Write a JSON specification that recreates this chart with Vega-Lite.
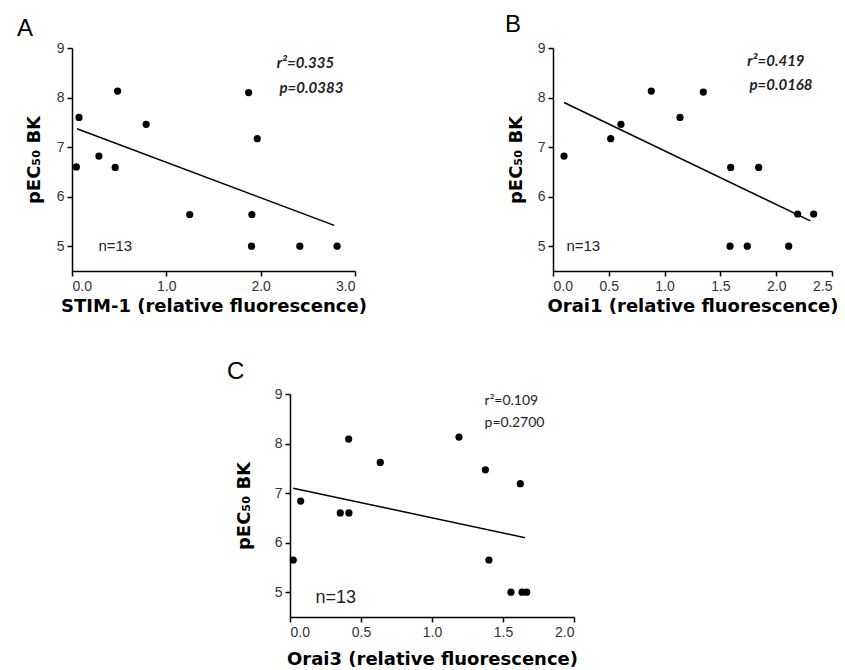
{
  "$schema": "https://vega.github.io/schema/vega-lite/v6.json",
  "padding": {"left": 17, "top": 13, "right": 5, "bottom": 5},
  "background": "white",
  "datasets": {
    "ptsA": [{"x":0.046,"y":6.6},{"x":0.074,"y":7.6},{"x":0.483,"y":8.13},{"x":0.285,"y":6.82},{"x":0.458,"y":6.59},{"x":0.786,"y":7.46},{"x":1.248,"y":5.64},{"x":1.872,"y":8.1},{"x":1.963,"y":7.17},{"x":1.907,"y":5.64},{"x":1.903,"y":5.0},{"x":2.415,"y":5.0},{"x":2.81,"y":5.0}],
    "lineA": [{"x":0.053,"y":7.37},{"x":2.78,"y":5.42}],
    "ptsB": [{"x":0.099,"y":6.82},{"x":0.517,"y":7.17},{"x":0.609,"y":7.46},{"x":0.881,"y":8.13},{"x":1.138,"y":7.6},{"x":1.347,"y":8.11},{"x":1.592,"y":6.59},{"x":1.843,"y":6.59},{"x":1.586,"y":5.0},{"x":1.741,"y":5.0},{"x":2.112,"y":5.0},{"x":2.192,"y":5.65},{"x":2.336,"y":5.65}],
    "lineB": [{"x":0.099,"y":7.9},{"x":2.306,"y":5.51}],
    "ptsC": [{"x":0.023,"y":5.65},{"x":0.075,"y":6.84},{"x":0.354,"y":6.6},{"x":0.415,"y":6.6},{"x":0.413,"y":8.09},{"x":0.636,"y":7.62},{"x":1.19,"y":8.13},{"x":1.376,"y":7.47},{"x":1.622,"y":7.19},{"x":1.401,"y":5.65},{"x":1.556,"y":5.0},{"x":1.634,"y":5.0},{"x":1.667,"y":5.0}],
    "lineC": [{"x":0.023,"y":7.1},{"x":1.655,"y":6.1}],
    "one": [{}]
  },
  "config": {
    "view": {"stroke": null},
    "axis": {"grid": false, "domainColor": "black", "domainWidth": 1.5, "tickColor": "black", "tickWidth": 1.5, "tickSize": 5, "labelFont": "Liberation Sans", "labelFontSize": 14, "labelColor": "#333", "labelPadding": 3, "titleFont": "DejaVu Sans", "titleFontSize": 18, "titleFontWeight": "bold", "titleColor": "black"},
    "title": {"font": "Liberation Sans", "fontSize": 24, "fontWeight": "normal", "color": "black", "anchor": "start", "frame": "group"}
  },
  "bounds": "flush",
  "spacing": 346,
  "vconcat": [
    {
      "bounds": "flush",
      "spacing": 198,
      "hconcat": [
        {
          "width": 283, "height": 223,
          "title": {"text": "A", "dx": -55, "offset": 0},
          "layer": [
            {"data": {"name": "ptsA"}, "mark": {"type": "circle", "size": 52, "color": "black", "opacity": 1},
             "encoding": {
               "x": {"field": "x", "type": "quantitative", "scale": {"domain": [0, 3], "nice": false}, "axis": {"values": [0, 1, 2, 3], "format": ".1f", "title": "STIM-1 (relative fluorescence)", "titlePadding": 4}},
               "y": {"field": "y", "type": "quantitative", "scale": {"domain": [4.5, 9], "nice": false, "zero": false}, "axis": {"values": [5, 6, 7, 8, 9], "format": "d", "title": "pEC₅₀ BK", "titlePadding": 13}}
             }},
            {"data": {"name": "lineA"}, "mark": {"type": "line", "color": "black", "strokeWidth": 1.5},
             "encoding": {"x": {"field": "x", "type": "quantitative"}, "y": {"field": "y", "type": "quantitative"}}},
            {"data": {"name": "one"}, "mark": {"type": "text", "text": "r²=0.335", "align": "left", "baseline": "middle", "font": "Lato", "fontSize": 15, "fontWeight": "bold", "fontStyle": "italic", "color": "#222"},
             "encoding": {"x": {"datum": 2.17}, "y": {"datum": 8.7}}},
            {"data": {"name": "one"}, "mark": {"type": "text", "text": "p=0.0383", "align": "left", "baseline": "middle", "font": "Lato", "fontSize": 15, "fontWeight": "bold", "fontStyle": "italic", "color": "#222"},
             "encoding": {"x": {"datum": 2.2}, "y": {"datum": 8.2}}},
            {"data": {"name": "one"}, "mark": {"type": "text", "text": "n=13", "align": "left", "baseline": "middle", "font": "Liberation Sans", "fontSize": 15, "color": "#222"},
             "encoding": {"x": {"datum": 0.28}, "y": {"datum": 5.0}}}
          ]
        },
        {
          "width": 279, "height": 223,
          "title": {"text": "B", "dx": -48, "offset": 4},
          "layer": [
            {"data": {"name": "ptsB"}, "mark": {"type": "circle", "size": 52, "color": "black", "opacity": 1},
             "encoding": {
               "x": {"field": "x", "type": "quantitative", "scale": {"domain": [0, 2.5], "nice": false}, "axis": {"values": [0, 0.5, 1, 1.5, 2, 2.5], "format": ".1f", "title": "Orai1 (relative fluorescence)", "titlePadding": 4}},
               "y": {"field": "y", "type": "quantitative", "scale": {"domain": [4.5, 9], "nice": false, "zero": false}, "axis": {"values": [5, 6, 7, 8, 9], "format": "d", "title": "pEC₅₀ BK", "titlePadding": 12}}
             }},
            {"data": {"name": "lineB"}, "mark": {"type": "line", "color": "black", "strokeWidth": 1.5},
             "encoding": {"x": {"field": "x", "type": "quantitative"}, "y": {"field": "y", "type": "quantitative"}}},
            {"data": {"name": "one"}, "mark": {"type": "text", "text": "r²=0.419", "align": "left", "baseline": "middle", "font": "Lato", "fontSize": 15, "fontWeight": "bold", "fontStyle": "italic", "color": "#222"},
             "encoding": {"x": {"datum": 1.74}, "y": {"datum": 8.74}}},
            {"data": {"name": "one"}, "mark": {"type": "text", "text": "p=0.0168", "align": "left", "baseline": "middle", "font": "Lato", "fontSize": 15, "fontWeight": "bold", "fontStyle": "italic", "color": "#222"},
             "encoding": {"x": {"datum": 1.76}, "y": {"datum": 8.26}}},
            {"data": {"name": "one"}, "mark": {"type": "text", "text": "n=13", "align": "left", "baseline": "middle", "font": "Liberation Sans", "fontSize": 15, "color": "#222"},
             "encoding": {"x": {"datum": 0.12}, "y": {"datum": 5.0}}}
          ]
        }
      ]
    },
    {
      "bounds": "flush",
      "spacing": 217,
      "hconcat": [
        {"width": 1, "height": 223, "data": {"values": []}, "mark": "point", "encoding": {}},
        {
          "width": 284, "height": 223,
          "title": {"text": "C", "dx": -63, "offset": 3},
          "layer": [
            {"data": {"name": "ptsC"}, "mark": {"type": "circle", "size": 52, "color": "black", "opacity": 1},
             "encoding": {
               "x": {"field": "x", "type": "quantitative", "scale": {"domain": [0, 2], "nice": false}, "axis": {"values": [0, 0.5, 1, 1.5, 2], "format": ".1f", "title": "Orai3 (relative fluorescence)", "titlePadding": 11}},
               "y": {"field": "y", "type": "quantitative", "scale": {"domain": [4.5, 9], "nice": false, "zero": false}, "axis": {"values": [5, 6, 7, 8, 9], "format": "d", "title": "pEC₅₀ BK", "titlePadding": 21}}
             }},
            {"data": {"name": "lineC"}, "mark": {"type": "line", "color": "black", "strokeWidth": 1.5},
             "encoding": {"x": {"field": "x", "type": "quantitative"}, "y": {"field": "y", "type": "quantitative"}}},
            {"data": {"name": "one"}, "mark": {"type": "text", "text": "r²=0.109", "align": "left", "baseline": "middle", "font": "Lato", "fontSize": 14, "color": "#222"},
             "encoding": {"x": {"datum": 1.37}, "y": {"datum": 8.86}}},
            {"data": {"name": "one"}, "mark": {"type": "text", "text": "p=0.2700", "align": "left", "baseline": "middle", "font": "Lato", "fontSize": 14, "color": "#222"},
             "encoding": {"x": {"datum": 1.37}, "y": {"datum": 8.42}}},
            {"data": {"name": "one"}, "mark": {"type": "text", "text": "n=13", "align": "left", "baseline": "middle", "font": "Liberation Sans", "fontSize": 18, "color": "#222"},
             "encoding": {"x": {"datum": 0.18}, "y": {"datum": 4.89}}}
          ]
        }
      ]
    }
  ]
}
